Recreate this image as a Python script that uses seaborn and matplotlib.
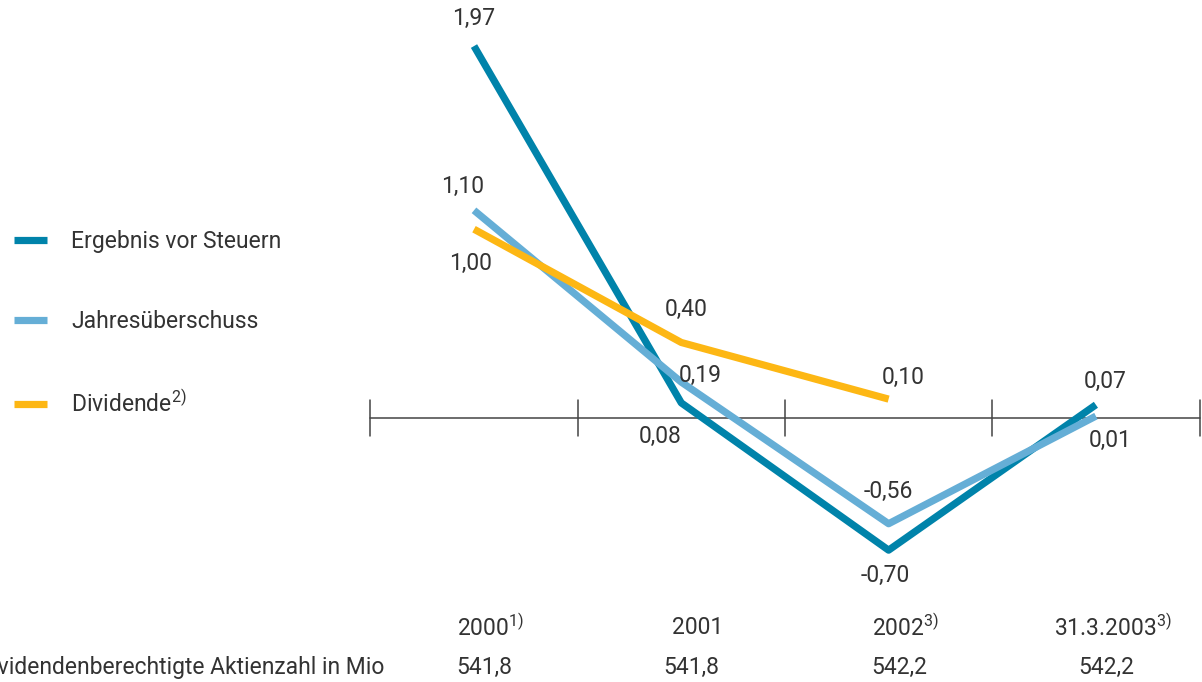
import numpy as np
import pandas as pd
import matplotlib.pyplot as plt
import seaborn as sns

sns.set_style("white")
plt.rcParams['font.family'] = ['Roboto', 'DejaVu Sans']
plt.rcParams['mathtext.default'] = 'regular'

categories = ["2000$^{1)}$", "2001", "2002$^{3)}$", "31.3.2003$^{3)}$"]
aktien = ["541,8", "541,8", "542,2", "542,2"]
ergebnis = [1.97, 0.08, -0.70, 0.07]
jahres = [1.10, 0.19, -0.56, 0.01]
dividende = [1.00, 0.40, 0.10, np.nan]
series = ["Ergebnis vor Steuern", "Jahresüberschuss", "Dividende$^{2)}$"]
colors = ["#0083aa", "#65aed6", "#fdb714"]

df = pd.DataFrame({
    "x": list(range(4)) * 3,
    "wert": ergebnis + jahres + dividende,
    "reihe": [s for s in series for _ in range(4)],
})

fig = plt.figure(figsize=(12.02, 6.82), dpi=100)
ax = fig.add_axes([0, 0, 1, 1])
sns.lineplot(data=df, x="x", y="wert", hue="reihe", hue_order=series,
             palette=colors, linewidth=5.2, ax=ax, sort=False,
             solid_capstyle="butt")

# px -> data: category step 207.3 px, 1.0 unit = 188.8 px
ax.set_xlim(-474 / 207.3, (1202 - 474) / 207.3)
ax.set_ylim(-(682 - 418) / 188.8, 418 / 188.8)
ax.axis("off")

# baseline with tick marks
ax.plot([-0.5, 3.5], [0, 0], color="#444444", lw=1.1, zorder=1)
for t in np.arange(-0.5, 3.6, 1):
    ax.plot([t, t], [-0.095, 0.095], color="#444444", lw=1.1, zorder=1)

txt = dict(fontsize=16.5, color="#333333", ha="center", va="center")
# offsets in pixels (dx, dy up)
offs_e = [(0, 28), (-21, -34), (-3, -25), (9, 23)]
offs_j = [(-11, 24), (19, 7), (0, 32), (14, -24)]
offs_d = [(-4, -34), (5, 33), (15, 22)]
for vals, offs in [(ergebnis, offs_e), (jahres, offs_j), (dividende, offs_d)]:
    for i, (v, o) in enumerate(zip(vals, offs)):
        if np.isnan(v):
            continue
        lab = f"{v:.2f}".replace(".", ",")
        ax.annotate(lab, (i, v), xytext=(o[0] * 0.72, o[1] * 0.72),
                    textcoords="offset points", **txt)

# bottom rows
for i, (c, a) in enumerate(zip(categories, aktien)):
    ax.text(i + 0.08, -1.11, c, **txt)
    ax.text(i + 0.05, -1.32, a, **txt)
ax.text(-0.43, -1.32, "Dividendenberechtigte Aktienzahl in Mio",
        fontsize=16.5, color="#333333", ha="right", va="center")

leg = ax.legend(loc="upper left", bbox_to_anchor=(0.0, 1 - 216 / 682),
                frameon=False, fontsize=16.5, handlelength=1.45,
                handletextpad=1.06, labelspacing=2.5, borderaxespad=0.2)
for h in leg.get_lines():
    h.set_linewidth(5.2)
for t in leg.get_texts():
    t.set_color("#333333")

fig.savefig("out.png", dpi=100)
